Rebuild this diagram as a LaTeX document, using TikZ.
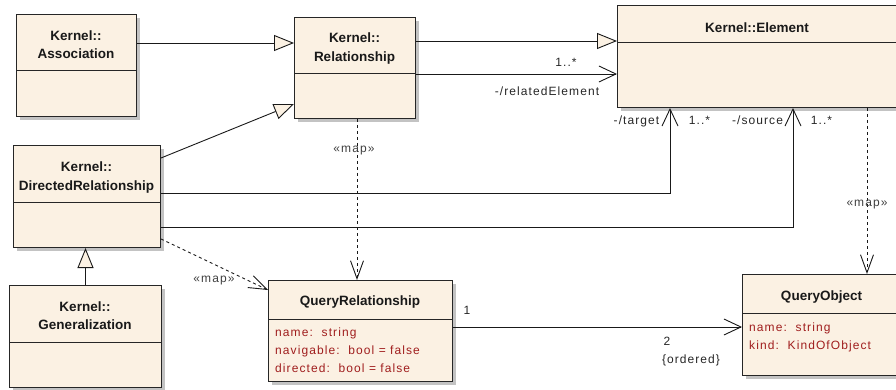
\documentclass[tikz,border=0pt]{standalone}
\usepackage{fontspec}
\setmainfont{Liberation Sans}
\newfontfamily\lblfont[LetterSpace=9]{Liberation Sans}
\usetikzlibrary{arrows.meta,shadows}
\definecolor{cream}{RGB}{251,241,227}
\definecolor{attr}{RGB}{160,30,30}
\definecolor{shadowgray}{RGB}{195,195,195}
\begin{document}
\begin{tikzpicture}[x=1pt,y=-1pt,
  cls/.style={draw=black!85, line width=1pt, fill=cream, anchor=north west, inner sep=0pt,
    drop shadow={shadow xshift=3.5pt, shadow yshift=-3.5pt, fill=shadowgray, opacity=1}},
  ttl/.style={font=\fontsize{13.5}{18.5}\selectfont\bfseries, align=center, text=black!90, anchor=base, inner sep=0pt},
  att/.style={font=\lblfont\fontsize{12}{14}\selectfont, text=attr, anchor=base west, inner sep=0pt},
  lbl/.style={font=\lblfont\fontsize{12}{14}\selectfont, inner sep=0pt, anchor=base, text=black!85},
  maplbl/.style={lbl, text=black!75},
  div/.style={draw=black!85, line width=1pt},
  conn/.style={draw=black!90, line width=0.9pt},
  gentip/.style={conn, -{Triangle[length=20pt,width=16pt,fill=cream]}},
  nav/.style={conn, -{Straight Barb[length=17pt,width=16pt]}},
  mapd/.style={conn, dash pattern=on 3pt off 3pt, -{Straight Barb[length=18pt,width=13pt]}},
]
\useasboundingbox (0,0) rectangle (896,390);
\clip (0,0) rectangle (896,390);

% classes
\node[cls, minimum width=120, minimum height=102] (assoc) at (16,14) {};
\draw[div] ([yshift=-57pt]assoc.north west) -- ([yshift=-57pt]assoc.north east);
\node[ttl] (assocT) at (76,59) {Kernel::\\Association};

\node[cls, minimum width=121, minimum height=101] (rel) at (294,17) {};
\draw[div] ([yshift=-57pt]rel.north west) -- ([yshift=-57pt]rel.north east);
\node[ttl] (relT) at (354.5,61.5) {Kernel::\\Relationship};

\node[cls, minimum width=281, minimum height=102] (elem) at (617,5) {};
\draw[div] ([yshift=-38pt]elem.north west) -- ([yshift=-38pt]elem.north east);
\node[ttl] (elemT) at (757,32.3) {Kernel::Element};

\node[cls, minimum width=147, minimum height=102] (dr) at (13,145) {};
\draw[div] ([yshift=-57pt]dr.north west) -- ([yshift=-57pt]dr.north east);
\node[ttl] (drT) at (86.5,190) {Kernel::\\DirectedRelationship};

\node[cls, minimum width=152, minimum height=102] (genz) at (9,285) {};
\draw[div] ([yshift=-57pt]genz.north west) -- ([yshift=-57pt]genz.north east);
\node[ttl] (genT) at (85,329.5) {Kernel::\\Generalization};

\node[cls, minimum width=184, minimum height=101] (qr) at (268,280) {};
\draw[div] ([yshift=-39pt]qr.north west) -- ([yshift=-39pt]qr.north east);
\node[ttl] (qrT) at (360,305) {QueryRelationship};
\node[att] (qrA1) at (275,336) {name:\ \ string};
\node[att] (qrA2) at (275,354) {navigable:\ \ bool = false};
\node[att] (qrA3) at (275,372) {directed:\ \ bool = false};

\node[cls, minimum width=158, minimum height=101] (qo) at (742,274) {};
\draw[div] ([yshift=-39pt]qo.north west) -- ([yshift=-39pt]qo.north east);
\node[ttl] (qoT) at (821.5,300) {QueryObject};
\node[att] (qoA1) at (749,331) {name:\ \ string};
\node[att] (qoA2) at (749,349) {kind:\ \ KindOfObject};

% generalizations
\coordinate (a1) at ([yshift=-29pt]assoc.north east);
\draw[gentip] (a1) -- (a1 -| rel.west);
\coordinate (drR) at ([yshift=-13pt]dr.north east);
\coordinate (relG) at ([yshift=15pt]rel.south west);
\draw[gentip] (drR) -- (relG);
\coordinate (r1) at ([yshift=-24pt]rel.north east);
\draw[gentip] (r1) -- (r1 -| elem.west);
\draw[gentip] (genz.north) -- (genz.north |- dr.south);

% associations
\coordinate (r2) at ([yshift=-57pt]rel.north east);
\draw[nav] (r2) -- (r2 -| elem.west);
\node[lbl] (l1) at (566,67) {1..*};
\node[lbl] (l2) at (547,96) {-/relatedElement};

\coordinate (d1) at ([yshift=-48pt]dr.north east);
\coordinate (t1) at ([xshift=53pt]elem.south west);
\draw[nav] (d1) -| (t1);
\coordinate (d2) at ([yshift=-82pt]dr.north east);
\coordinate (t2) at ([xshift=176pt]elem.south west);
\draw[nav] (d2) -| (t2);
\node[lbl] (l3) at (636.5,125) {-/target};
\node[lbl] (l4) at (699.5,125) {1..*};
\node[lbl] (l5) at (757.5,125) {-/source};
\node[lbl] (l6) at (821.5,125) {1..*};

\coordinate (q1) at ([yshift=-47pt]qr.north east);
\draw[nav] (q1) -- (q1 -| qo.west);
\node[lbl] (l7) at (467,314) {1};
\node[lbl] (l8) at (667,345) {2};
\node[lbl] (l9) at (691,363) {\{ordered\}};

% maps
\coordinate (m1) at ([xshift=250pt]elem.south west);
\draw[mapd] (m1) -- (m1 |- qo.north);
\node[maplbl] (map1) at (867,206) {«map»};
\coordinate (m2) at ([xshift=63pt]rel.south west);
\draw[mapd] (m2) -- (m2 |- qr.north);
\node[maplbl] (map2) at (354,153) {«map»};
\coordinate (m3) at ([yshift=9pt]dr.south east);
\coordinate (m3e) at ([yshift=-10pt]qr.north west);
\draw[mapd] (m3) -- (m3e);
\node[maplbl] (map3) at (214,282) {«map»};
\end{tikzpicture}
\end{document}
